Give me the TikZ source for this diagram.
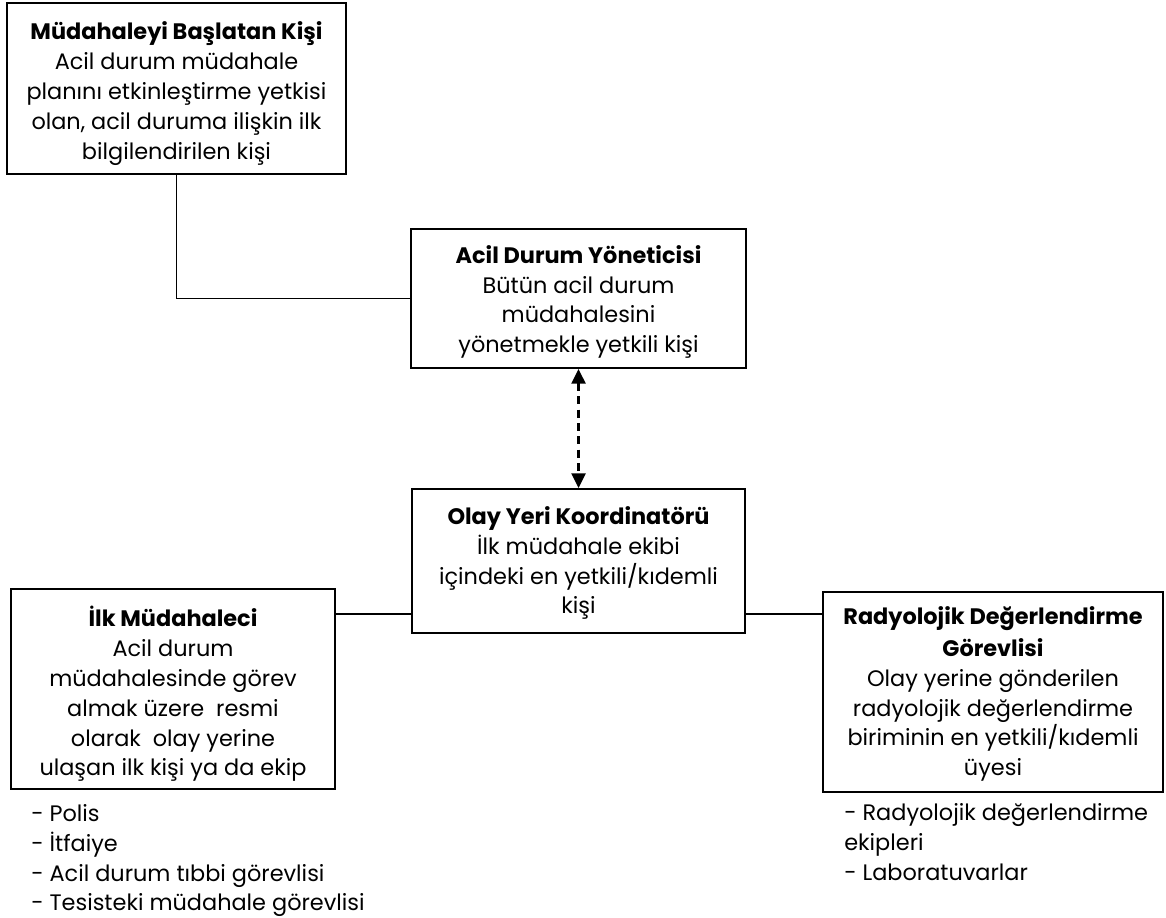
\documentclass[tikz,border=0pt]{standalone}
\usepackage{fontspec}
\setmainfont{Poppins}
\usetikzlibrary{arrows.meta}
\begin{document}
\begin{tikzpicture}[x=0.75pt,y=-0.75pt,
  font=\fontsize{16.8}{22.4}\selectfont,
  box/.style={draw,line width=1.4pt,inner sep=0pt},
  txt/.style={align=center,inner sep=0pt},
  conn/.style={line width=1.4pt},
  dasharrow/.style={line width=1.6pt,dash pattern=on 6pt off 4pt,
     {Triangle[length=11pt,width=10.5pt]}-{Triangle[length=11pt,width=10.5pt]}},
  listtext/.style={align=left,anchor=north west,inner sep=0pt}]
\useasboundingbox (0,0) rectangle (1166,917);

\node[box,minimum width=254.25pt,minimum height=128.25pt] (b1) at (176.5,88.5) {};
\node[txt] (t1) at (176.5,93.5)
 {\textbf{Müdahaleyi Başlatan Kişi}\\Acil durum müdahale\\planını etkinleştirme yetkisi\\olan, acil duruma ilişkin ilk\\bilgilendirilen kişi};

\node[box,minimum width=251.25pt,minimum height=104.25pt] (b2) at (578.5,298.5) {};
\node[txt] (t2) at (578.5,302)
 {\textbf{Acil Durum Yöneticisi}\\Bütün acil durum\\müdahalesini\\yönetmekle yetkili kişi};

\node[box,minimum width=249.75pt,minimum height=108pt] (b3) at (578.5,561) {};
\node[txt] (t3) at (578.5,563)
 {\textbf{Olay Yeri Koordinatörü}\\İlk müdahale ekibi\\içindeki en yetkili/kıdemli\\kişi};

\node[box,minimum width=243pt,minimum height=150pt] (b4) at (173,689) {};
\node[txt] (t4) at (173,694)
 {\textbf{İlk Müdahaleci}\\Acil durum\\müdahalesinde görev\\almak üzere\ \ resmi\\olarak\ \ olay yerine\\ulaşan ilk kişi ya da ekip};

\node[box,minimum width=255pt,minimum height=150pt] (b5) at (993,692) {};
\node[txt] (t5) at (993,694)
 {\textbf{Radyolojik Değerlendirme}\\[1.5pt]\textbf{Görevlisi}\\Olay yerine gönderilen\\radyolojik değerlendirme\\biriminin en yetkili/kıdemli\\üyesi};

\node[listtext] (l1) at (31,804)
 {- Polis\\- İtfaiye\\- Acil durum tıbbi görevlisi\\- Tesisteki müdahale görevlisi};

\node[listtext] (l2) at (844,803)
 {- Radyolojik değerlendirme\\ekipleri\\- Laboratuvarlar};

\coordinate (lvl) at (0,614);
\draw[conn] (b1.south) |- (b2.west);
\draw[dasharrow] (b2.south) -- (b3.north);
\draw[conn] (lvl -| b4.east) -- (lvl -| b3.west);
\draw[conn] (lvl -| b3.east) -- (lvl -| b5.west);
\end{tikzpicture}
\end{document}
